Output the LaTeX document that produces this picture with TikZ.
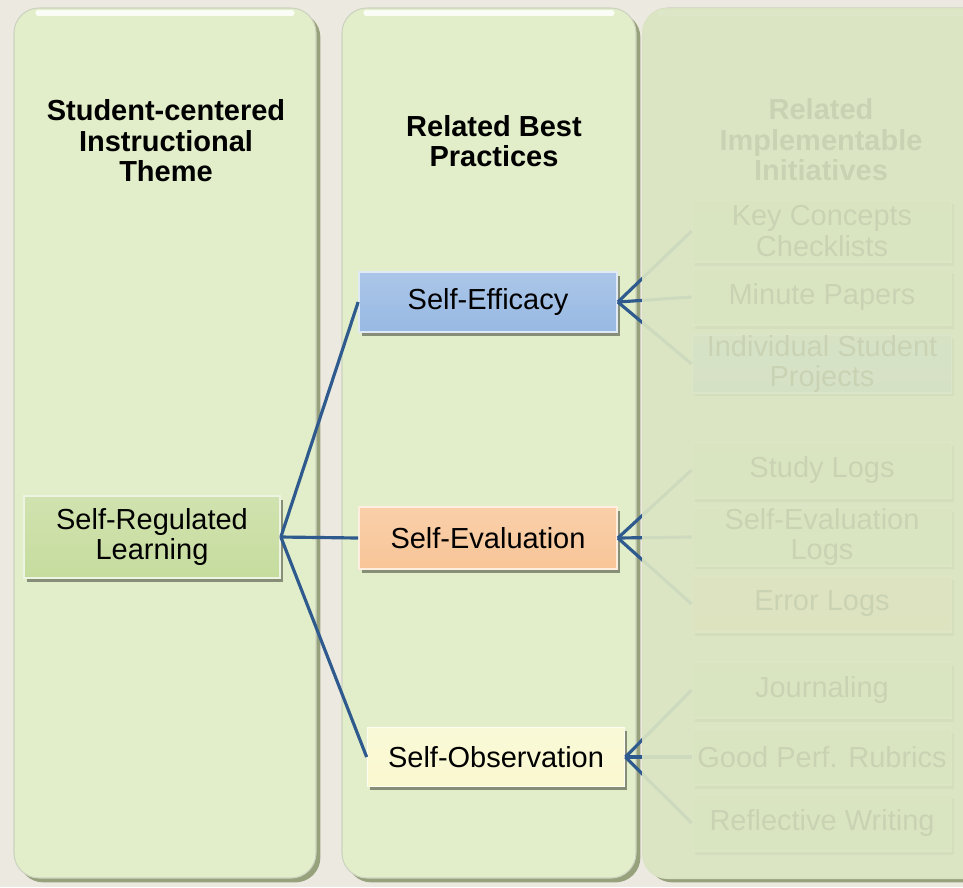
\documentclass[tikz,border=0pt]{standalone}
\usepackage{fontspec}
\setmainfont{Liberation Sans}
\usetikzlibrary{shadows}

\definecolor{Paper}{HTML}{ECE9E1}
\definecolor{Panel}{HTML}{E2EEC9}
\definecolor{PanelEdge}{HTML}{8E9A72}
\definecolor{Veil}{HTML}{DBE5C3}
\definecolor{Link}{HTML}{2F5A8D}
\definecolor{LeafGreen}{HTML}{C6DC9E}
\definecolor{SkyBlue}{HTML}{98B9E3}
\definecolor{Peach}{HTML}{F8C597}
\definecolor{Cream}{HTML}{F9F8CF}

\begin{document}
\begin{tikzpicture}[x=0.02cm,y=-0.02cm,
  font=\fontsize{16.5}{17.4}\selectfont,
  panel/.style={fill=Panel,draw=PanelEdge!45,line width=0.6pt,rounded corners=0.5cm,
    drop shadow={shadow xshift=2.5pt,shadow yshift=-2.5pt,fill=PanelEdge,opacity=0.9}},
  shine/.style={white,line width=3pt,opacity=0.85,line cap=round},
  heading/.style={font=\fontsize{16.5}{17.4}\selectfont\bfseries,align=center},
  tile/.style={draw=white!70!#1,line width=1pt,top color=white!18!#1,bottom color=#1,
    align=center,inner sep=0pt,minimum width=5.16cm,minimum height=1.2cm,
    drop shadow={shadow xshift=1.5pt,shadow yshift=-2pt,fill=black,opacity=0.4}},
  initiative/.style={tile=#1,minimum width=5.18cm,minimum height=1.12cm},
  link/.style={draw=Link,line width=1.8pt}]

\useasboundingbox (0,0) rectangle (963,887);
\fill[Paper] (0,0) rectangle (963,887);

\draw[panel] (14,8) rectangle (316,878);
\draw[panel] (342,8) rectangle (636,878);
\draw[panel] (643,8) rectangle (1000,878);
\draw[shine] (38,13) -- (292,13);
\draw[shine] (366,13) -- (612,13);
\draw[shine] (660,13) -- (963,13);

\node[heading] (theme) at (166,141) {Student-centered\\Instructional\\Theme};
\node[heading] (best) at (494,141) {Related Best\\Practices};
\node[heading] (impl) at (821,140) {Related\\Implementable\\Initiatives};

\node[tile=LeafGreen,minimum width=5.12cm,minimum height=1.64cm] (srl) at (152,537) {Self-Regulated\\Learning};
\node[tile=SkyBlue] (eff) at (488,302) {Self-Efficacy};
\node[tile=Peach,minimum height=1.24cm] (eval) at (488,538) {Self-Evaluation};
\node[tile=Cream,minimum width=5.14cm,minimum height=1.18cm] (obs) at (496,757) {Self-Observation};

\node[initiative=LeafGreen,minimum height=1.24cm] (kcc) at (822,231) {Key Concepts\\Checklists};
\node[initiative=LeafGreen] (mp) at (822,297) {Minute Papers};
\node[initiative=SkyBlue] (isp) at (822,364) {Individual Student\\Projects};
\node[initiative=LeafGreen] (sl) at (822,470) {Study Logs};
\node[initiative=LeafGreen] (sel) at (822,537) {Self-Evaluation\\Logs};
\node[initiative=Peach] (el) at (822,604) {Error Logs};
\node[initiative=LeafGreen] (jr) at (822,690) {Journaling};
\node[initiative=LeafGreen] (gpr) at (822,757) {Good Perf. Rubrics};
\node[initiative=LeafGreen] (rw) at (822,823) {Reflective Writing};

\draw[link] (srl.east) -- (eff.west);
\draw[link] (srl.east) -- (eval.west);
\draw[link] (srl.east) -- (obs.west);

\draw[link] (kcc.west) -- (eff.east);
\draw[link] (mp.west) -- (eff.east);
\draw[link] (isp.west) -- (eff.east);
\draw[link] (sl.west) -- (eval.east);
\draw[link] (sel.west) -- (eval.east);
\draw[link] (el.west) -- (eval.east);
\draw[link] (jr.west) -- (obs.east);
\draw[link] (gpr.west) -- (obs.east);
\draw[link] (rw.west) -- (obs.east);

\fill[Veil,opacity=0.92,rounded corners=0.5cm] (642,8) rectangle (1000,879);
\end{tikzpicture}
\end{document}
